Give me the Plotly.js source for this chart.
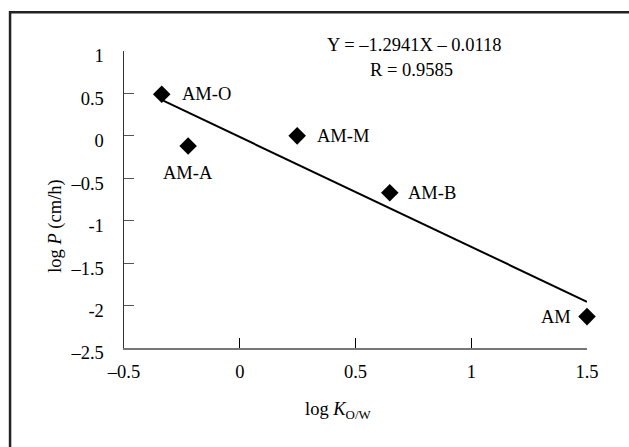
<!DOCTYPE html>
<html>
<head>
<meta charset="utf-8">
<script src="https://cdn.plot.ly/plotly-3.0.1.min.js"></script>
<style>html,body{margin:0;padding:0;background:#fff;}#chart{width:629px;height:447px;}</style>
</head>
<body>
<div id="chart"></div>
<script>
// Data
const labels = ["AM-O", "AM-A", "AM-M", "AM-B", "AM"];
const logKow = [-0.337, -0.223, 0.248, 0.648, 1.5];
const logP = [0.49, -0.12, 0.0, -0.67, -2.13];
const fitX = [-0.335, 1.5];
const fitY = [0.42, -1.955];
const xTickVals = [-0.5, 0, 0.5, 1, 1.5];
const xTickText = ["\u20130.5", "0", "0.5", "1", "1.5"];
const yTickVals = [1, 0.5, 0, -0.5, -1, -1.5, -2, -2.5];
const yTickText = ["1", "0.5", "0", "\u20130.5", "-1", "\u20131.5", "-2", "\u20132.5"];
const eqLine1 = "Y = \u20131.2941X \u2013 0.0118";
const eqLine2 = "R = 0.9585";

// layout geometry (pixels)
const W = 629, H = 447;
const L = 123.5, R = 42.3, T = 50.7, B = 99.3;
const PW = W - L - R, PH = H - T - B;
const px = v => (v - L) / PW;
const py = v => (H - B - v) / PH;

const FONT = "Liberation Serif";
const FS = 18.5;

// label offsets (style)
const labelShift = {
  "AM-O": {xanchor: "left", xshift: 18, yshift: 0},
  "AM-A": {xanchor: "center", xshift: 0, yshift: -27},
  "AM-M": {xanchor: "left", xshift: 18, yshift: 0},
  "AM-B": {xanchor: "left", xshift: 16, yshift: 0},
  "AM": {xanchor: "right", xshift: -14, yshift: 0}
};

const annotations = labels.map((t, i) => ({
  x: logKow[i], y: logP[i], xref: "x", yref: "y", text: t, showarrow: false,
  xanchor: labelShift[t].xanchor, yanchor: "middle",
  xshift: labelShift[t].xshift, yshift: labelShift[t].yshift,
  font: {family: FONT, size: FS, color: "#000"}
}));

annotations.push(
  {x: px(414), y: py(45), xref: "paper", yref: "paper", text: eqLine1, showarrow: false,
   xanchor: "center", yanchor: "middle", font: {family: FONT, size: FS, color: "#000"}},
  {x: px(411), y: py(70), xref: "paper", yref: "paper", text: eqLine2, showarrow: false,
   xanchor: "center", yanchor: "middle", font: {family: FONT, size: FS, color: "#000"}},
  {x: px(338), y: py(410), xref: "paper", yref: "paper",
   text: "log <i>K</i><sub>O/W</sub>", showarrow: false,
   xanchor: "center", yanchor: "middle", font: {family: FONT, size: FS, color: "#000"}},
  {x: px(55), y: py(226), xref: "paper", yref: "paper",
   text: "log <i>P</i> (cm/h)", showarrow: false, textangle: -90,
   xanchor: "center", yanchor: "middle", font: {family: FONT, size: FS, color: "#000"}}
);

const traces = [
  {x: fitX, y: fitY, mode: "lines", type: "scatter",
   line: {color: "#000", width: 2}, hoverinfo: "skip", showlegend: false, cliponaxis: false},
  {x: logKow, y: logP, mode: "markers", type: "scatter",
   marker: {symbol: "diamond", size: 13.5, color: "#000"}, showlegend: false, cliponaxis: false}
];

const layout = {
  width: W, height: H,
  margin: {l: L, r: R, t: T, b: B, pad: 0},
  paper_bgcolor: "#fff", plot_bgcolor: "#fff",
  font: {family: FONT, size: FS, color: "#000"},
  showlegend: false,
  xaxis: {
    range: [-0.5, 1.5], tickmode: "array", tickvals: xTickVals, ticktext: xTickText,
    ticks: "inside", ticklen: 10, tickwidth: 1, tickcolor: "#000",
    showline: true, linecolor: "#777", linewidth: 2,
    showgrid: false, zeroline: false, ticklabelstandoff: 6,
    tickfont: {family: FONT, size: FS, color: "#000"}
  },
  yaxis: {
    range: [-2.5, 1], tickmode: "array", tickvals: yTickVals, ticktext: yTickText,
    ticks: "inside", ticklen: 10, tickwidth: 1, tickcolor: "#555",
    showline: true, linecolor: "#333", linewidth: 1.5,
    showgrid: false, zeroline: false, ticklabelstandoff: 15, ticklabelshift: 5,
    tickfont: {family: FONT, size: FS, color: "#000"}
  },
  annotations: annotations,
  shapes: [
    {type: "rect", xref: "paper", yref: "paper",
     x0: px(9.5), x1: px(640), y0: py(460), y1: py(12),
     line: {color: "#222", width: 2.5}, fillcolor: "rgba(0,0,0,0)", layer: "above"}
  ]
};

Plotly.newPlot("chart", traces, layout, {displayModeBar: false, staticPlot: true});
</script>
</body>
</html>
